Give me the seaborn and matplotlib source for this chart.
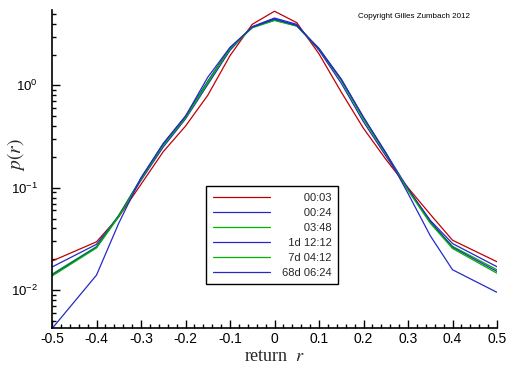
import numpy as np
import pandas as pd
import matplotlib
matplotlib.use("Agg")
import matplotlib.pyplot as plt
import seaborn as sns
from matplotlib.ticker import MultipleLocator, LogLocator

# ---- data ----
r_values = [-0.5, -0.4, -0.35, -0.3, -0.25, -0.2, -0.15, -0.1, -0.05, 0.0,
            0.05, 0.1, 0.15, 0.2, 0.25, 0.3, 0.35, 0.4, 0.5]
series_labels = ["00:03", "00:24", "03:48", "1d 12:12", "7d 04:12", "68d 06:24"]
p_0003 = [0.0192, 0.0296, 0.052, 0.108, 0.225, 0.40, 0.80, 1.95, 3.95, 5.3,
          4.1, 2.03, 0.86, 0.38, 0.19, 0.100, 0.055, 0.0307, 0.0189]
p_0024 = [0.0168, 0.0280, 0.053, 0.118, 0.25, 0.47, 1.02, 2.2, 3.75, 4.55,
          3.95, 2.2, 1.05, 0.44, 0.205, 0.097, 0.048, 0.0285, 0.0169]
p_0348 = [0.0143, 0.0266, 0.054, 0.122, 0.26, 0.49, 1.06, 2.3, 3.7, 4.35,
          3.8, 2.28, 1.12, 0.47, 0.215, 0.096, 0.046, 0.0268, 0.0158]
p_1d = [0.0140, 0.0262, 0.053, 0.124, 0.27, 0.50, 1.10, 2.32, 3.7, 4.4,
        3.85, 2.3, 1.15, 0.48, 0.22, 0.098, 0.047, 0.0262, 0.0152]
p_7d = [0.0137, 0.0258, 0.052, 0.121, 0.265, 0.48, 1.08, 2.28, 3.65, 4.3,
        3.8, 2.25, 1.12, 0.47, 0.215, 0.094, 0.045, 0.0255, 0.0146]
p_68d = [0.0042, 0.0140, 0.045, 0.125, 0.27, 0.50, 1.20, 2.35, 3.7, 4.45,
         3.85, 2.25, 1.15, 0.49, 0.22, 0.088, 0.034, 0.0158, 0.0095]
x_ticks = [-0.5, -0.4, -0.3, -0.2, -0.1, 0, 0.1, 0.2, 0.3, 0.4, 0.5]
x_tick_labels = ["-0.5", "-0.4", "-0.3", "-0.2", "-0.1", "0", "0.1", "0.2", "0.3", "0.4", "0.5"]

all_p = [p_0003, p_0024, p_0348, p_1d, p_7d, p_68d]
rows = []
for lab, vals in zip(series_labels, all_p):
    for rv, pv in zip(r_values, vals):
        rows.append({"r": rv, "p": pv, "series": lab})
df = pd.DataFrame(rows)

colors = ["#c00000", "#2828c8", "#00b400", "#2828c8", "#00b400", "#2828c8"]

sns.set_style("ticks")
plt.rcParams['font.family'] = ['Liberation Sans', 'DejaVu Sans']
plt.rcParams['mathtext.fontset'] = 'stix'

fig = plt.figure(figsize=(5.12, 3.66), dpi=100)
ax = fig.add_axes([52/512, 1 - 328/366, 445/512, 318/366])

sns.lineplot(data=df, x="r", y="p", hue="series", hue_order=series_labels,
             palette=colors, lw=0.9, ax=ax, legend=False, estimator=None, sort=True)

ax.set_yscale("log")
ax.set_xlim(-0.5, 0.5)
ax.set_ylim(0.00426, 5.45)
ax.set_xticks(x_ticks)
ax.set_xticklabels(x_tick_labels)
ax.xaxis.set_minor_locator(MultipleLocator(0.02))
ax.yaxis.set_major_locator(LogLocator(base=10, numticks=10))
ax.yaxis.set_minor_locator(LogLocator(base=10, subs=np.arange(2, 10), numticks=20))
ax.tick_params(axis="both", which="major", direction="in", length=6, width=1,
               color="black", labelcolor="black")
ax.tick_params(axis="x", which="major", labelsize=10, pad=3)
ax.tick_params(axis="y", which="major", labelsize=9.5, pad=10)
ax.tick_params(axis="both", which="minor", direction="in", length=3, width=1, color="black")
for s in ["top", "right"]:
    ax.spines[s].set_visible(False)
for s in ["left", "bottom"]:
    ax.spines[s].set_linewidth(1.2)
    ax.spines[s].set_color("black")

ax.set_xlabel("return  $r$", fontfamily="Liberation Serif", fontsize=13, labelpad=1)
ax.set_ylabel("$p(r)$", fontsize=14)
ax.yaxis.set_label_coords((27 - 52) / 445, (328 - 155) / 318)

# right-aligned labels: pad with figure spaces (digit width) + space
FS = "\u2007"
pad_labels = []
ref_units = max(len(l.replace(" ", "").replace(":", "")) + 0.5 * (l.count(" ") + l.count(":")) for l in series_labels)
for l in series_labels:
    units = len(l.replace(" ", "").replace(":", "")) + 0.5 * (l.count(" ") + l.count(":"))
    diff = ref_units - units
    n_fs = int(diff)
    half = (diff - n_fs) > 0.25
    pad_labels.append(FS * n_fs + (" " if half else "") + l)

handles = ax.get_lines()[:len(series_labels)]
leg = ax.legend(handles, pad_labels, loc="upper left", bbox_to_anchor=(0.346, 0.4465),
                borderaxespad=0, frameon=True, fancybox=False, framealpha=1,
                edgecolor="black", fontsize=8, handlelength=5.2, labelspacing=0.45,
                handletextpad=1.0, borderpad=0.6)
leg.get_frame().set_linewidth(1.0)

fig.text(358/512, 1 - 16/366, "Copyright Gilles Zumbach 2012", fontsize=5.8,
         va="center", ha="left", color="black")

fig.savefig("out.png", dpi=100)
